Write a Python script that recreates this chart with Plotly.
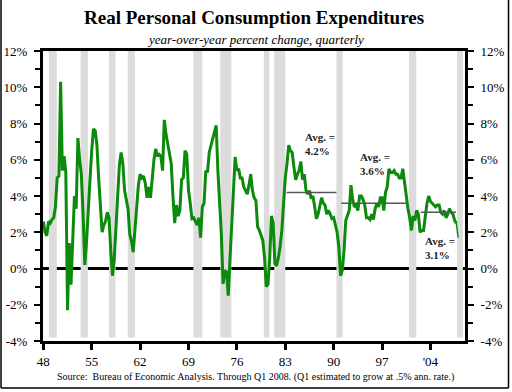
import plotly.graph_objects as go

# ---------------- data ----------------
start_year = 1948  # first quarter: 1948 Q1
pce_yoy = [
    2.6, 2.0, 1.8, 2.6,      # 1948
    2.5, 2.7, 2.8, 3.4,      # 1949
    5.0, 5.1, 10.3, 5.4,     # 1950
    6.2, 5.3, -2.3, 1.4,     # 1951
    -0.9, 1.4, 4.0, 3.3,     # 1952
    7.2, 6.0, 5.2, 3.0,      # 1953
    0.2, 1.5, 3.5, 4.9,      # 1954
    6.5, 7.7, 7.6, 6.8,      # 1955
    5.0, 3.5, 2.0, 2.4,      # 1956
    2.6, 3.1, 2.8, 1.0,      # 1957
    -0.4, 0.5, 2.5, 4.0,     # 1958
    5.7, 6.4, 5.8, 4.3,      # 1959
    3.8, 3.3, 1.9, 1.5,      # 1960
    0.9, 2.0, 3.5, 4.6,      # 1961
    5.2, 5.0, 5.1, 4.7,      # 1962
    3.9, 4.5, 3.9, 5.2,      # 1963
    6.0, 6.6, 6.2, 6.3,      # 1964
    6.2, 5.4, 8.2, 7.4,      # 1965
    6.9, 6.3, 5.8, 4.0,      # 1966
    2.5, 3.5, 2.9, 3.2,      # 1967
    4.9, 5.0, 6.5, 6.3,      # 1968
    4.3, 3.6, 2.75, 2.8,     # 1969
    2.6, 2.4, 2.8, 1.7,      # 1970
    3.4, 3.6, 5.4, 5.3,      # 1971
    6.4, 6.8, 7.2, 7.6,      # 1972
    7.9, 5.4, 3.5, 1.9,      # 1973
    -0.85, -0.1, -0.2, -1.5, # 1974
    0.5, 2.5, 4.0, 6.15,     # 1975
    5.4, 5.5, 5.0, 5.0,      # 1976
    4.5, 4.3, 4.1, 4.6,      # 1977
    5.2, 4.3, 3.9, 3.75,     # 1978
    2.3, 2.1, 1.8, 1.55,     # 1979
    0.6, -1.0, -0.85, 0.6,   # 1980
    2.9, 2.5, 0.25, 0.15,    # 1981
    0.6, 1.2, 2.1, 3.75,     # 1982
    5.0, 5.8, 6.8, 6.5,      # 1983
    6.4, 5.6, 4.9, 5.2,      # 1984
    5.4, 5.9, 4.9, 5.2,      # 1985
    4.3, 4.1, 4.3, 3.85,     # 1986
    4.0, 3.4, 2.75, 3.0,     # 1987
    3.5, 3.9, 3.6, 3.5,      # 1988
    3.0, 3.2, 3.0, 2.75,     # 1989
    2.8, 2.3, 2.0, 1.2,      # 1990
    -0.4, -0.1, 1.0, 2.65,   # 1991
    3.0, 3.2, 4.6, 3.8,      # 1992
    3.4, 3.5, 3.2, 4.0,      # 1993
    4.0, 3.8, 3.5, 2.8,      # 1994
    2.8, 2.7, 3.0, 2.7,      # 1995
    3.3, 3.6, 3.4, 3.9,      # 1996
    3.9, 3.2, 4.2, 4.5,      # 1997
    5.5, 5.3, 5.3, 5.4,      # 1998
    5.2, 5.2, 5.0, 5.0,      # 1999
    5.5, 4.7, 3.9, 3.3,      # 2000
    2.8, 2.1, 2.9, 2.65,     # 2001
    3.2, 3.0, 2.0, 2.1,      # 2002
    2.1, 3.0, 3.6, 4.0,      # 2003
    3.7, 3.6, 3.5, 3.4,      # 2004
    3.5, 3.5, 3.1, 3.0,      # 2005
    3.2, 2.8, 3.0, 3.3,      # 2006
    3.1, 3.0, 2.65, 2.5,     # 2007
    1.7,                     # 2008 Q1 (estimate)
]

recession_start = [1948.8, 1953.4, 1957.5, 1960.2, 1969.7, 1973.6, 1979.9, 1981.4, 1990.4, 2000.9, 2007.85]
recession_end   = [1949.95, 1954.45, 1958.45, 1961.25, 1971.0, 1975.2, 1980.7, 1983.0, 1991.3, 2001.95, 2008.7]

avg_values = [4.2, 3.6, 3.1]
avg_start  = [1983.2, 1991.1, 2002.6]
avg_end    = [1990.4, 2000.7, 2007.7]
avg_labels = ["Avg. =<br>4.2%", "Avg. =<br>3.6%", "Avg. =<br>3.1%"]
avg_label_x = [1985.5, 1993.5, 2002.9]
avg_label_y = [7.7, 6.6, 1.95]

x_tickvals = [1948, 1955, 1962, 1969, 1976, 1983, 1990, 1997, 2004]
x_ticktext = ["48", "55", "62", "69", "76", "83", "90", "97", "'04"]
y_tickvals = [-4, -2, 0, 2, 4, 6, 8, 10, 12]
y_ticktext = ["-4%", "-2%", "0%", "2%", "4%", "6%", "8%", "10%", "12%"]

# ---------------- figure ----------------
FONT = "Liberation Serif, Times New Roman, serif"
quarters = [start_year + i / 4 for i in range(len(pce_yoy))]

fig = go.Figure()

fig.add_trace(go.Scatter(x=quarters[:-1], y=pce_yoy[:-1], mode="lines",
                         line=dict(color="#0b8a0b", width=3), hoverinfo="skip"))
fig.add_trace(go.Scatter(x=quarters[-2:], y=pce_yoy[-2:], mode="lines",
                         line=dict(color="#0b8a0b", width=1.5), hoverinfo="skip"))

for v, a, b in zip(avg_values, avg_start, avg_end):
    fig.add_trace(go.Scatter(x=[a, b], y=[v, v], mode="lines",
                             line=dict(color="#555555", width=1.5), hoverinfo="skip"))

# invisible trace for right axis
fig.add_trace(go.Scatter(x=[quarters[0]], y=[0], yaxis="y2", mode="markers",
                         marker=dict(opacity=0), hoverinfo="skip"))

shapes = []
for a, b in zip(recession_start, recession_end):
    shapes.append(dict(type="rect", xref="x", yref="y", x0=a, x1=b, y0=-3.8, y1=12,
                       fillcolor="#dcdcdc", line=dict(width=0), layer="below"))
shapes.append(dict(type="rect", xref="paper", yref="y", x0=0, x1=1, y0=-0.17, y1=0.2,
                   fillcolor="white", line=dict(width=0), layer="below"))
shapes.append(dict(type="line", xref="paper", yref="y", x0=0, x1=1, y0=0, y1=0,
                   line=dict(color="black", width=3), layer="below"))
# outer frame (left, right, bottom)
for (x0, y0, x1, y1) in [(-0.0995, -0.162, -0.0995, 1.2), (1.1031, -0.162, 1.1031, 1.2),
                         (-0.0995, -0.162, 1.1031, -0.162)]:
    shapes.append(dict(type="line", xref="paper", yref="paper", x0=x0, y0=y0, x1=x1, y1=y1,
                       line=dict(color="black", width=1.5)))

annotations = []
for t, x, y in zip(avg_labels, avg_label_x, avg_label_y):
    annotations.append(dict(text="<b>" + t.replace("<br>", "</b><br><b>") + "</b>",
                            x=x, y=y, xref="x", yref="y", showarrow=False,
                            xanchor="left", yanchor="top", align="left",
                            font=dict(family=FONT, size=11, color="#222222")))
annotations.append(dict(text="<b>Real Personal Consumption Expenditures</b>",
                        x=0.5, y=1.117, xref="paper", yref="paper", showarrow=False,
                        xanchor="center", yanchor="middle",
                        font=dict(family=FONT, size=19, color="black")))
annotations.append(dict(text="<i>year-over-year percent change, quarterly</i>",
                        x=0.503, y=1.038, xref="paper", yref="paper", showarrow=False,
                        xanchor="center", yanchor="middle",
                        font=dict(family=FONT, size=13, color="black")))
annotations.append(dict(text="Source:  Bureau of Economic Analysis. Through Q1 2008. (Q1 estimated to grow at .5% ann. rate.)",
                        x=0.503, y=-0.124, xref="paper", yref="paper", showarrow=False,
                        xanchor="center", yanchor="middle",
                        font=dict(family=FONT, size=10, color="black")))

yaxis_common = dict(range=[-4, 12], tickvals=y_tickvals, ticktext=y_ticktext,
                    showgrid=False, zeroline=False, showline=True, linecolor="black",
                    linewidth=3, ticks="outside", ticklen=6, tickwidth=2, tickcolor="black",
                    ticklabelstandoff=4, automargin=False,
                    tickfont=dict(family=FONT, size=13, color="black"),
                    minor=dict(dtick=1, tick0=0, ticks="outside", ticklen=5, tickwidth=2,
                               tickcolor="black", showgrid=False),
                    fixedrange=True)

fig.update_layout(
    template="none",
    width=512, height=392,
    margin=dict(l=43, r=47, t=51, b=51, pad=0, autoexpand=False),
    paper_bgcolor="white", plot_bgcolor="white",
    showlegend=False,
    xaxis=dict(range=[1947.95, 2009.0], tickvals=x_tickvals, ticktext=x_ticktext,
               showgrid=False, zeroline=False, showline=True, mirror=True,
               linecolor="black", linewidth=3, ticks="outside", ticklen=6, tickwidth=3,
               tickcolor="black", tickfont=dict(family=FONT, size=13, color="black"),
               automargin=False, fixedrange=True),
    yaxis=dict(side="left", **yaxis_common),
    yaxis2=dict(side="right", overlaying="y", **yaxis_common),
    shapes=shapes,
    annotations=annotations,
)

fig.write_html("out.html", config={"displayModeBar": False},
               post_script="document.body.style.margin='0';document.body.style.overflow='hidden';")
